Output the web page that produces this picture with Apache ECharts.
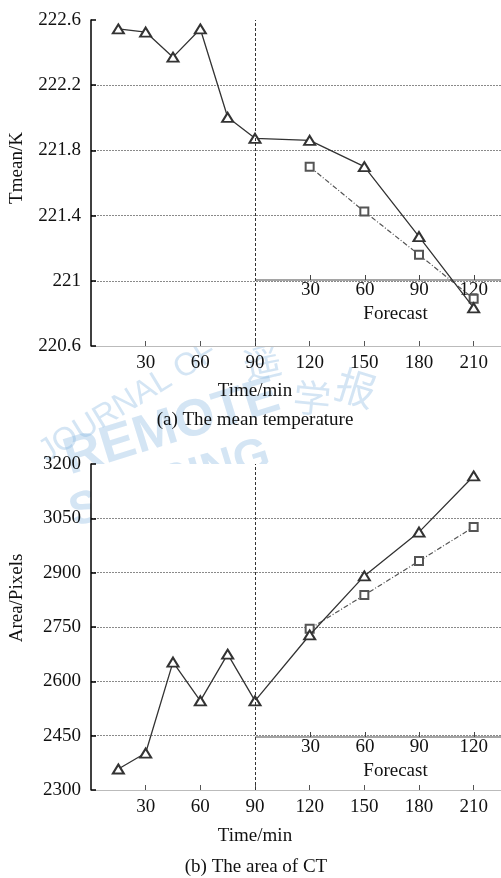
<!DOCTYPE html>
<html>
<head>
<meta charset="utf-8">
<script src="https://cdn.jsdelivr.net/npm/echarts@6/dist/echarts.min.js"></script>
<style>
  html, body { margin: 0; padding: 0; background: #fff; }
  #chart { width: 501px; height: 878px; }
</style>
</head>
<body>
<div id="chart"></div>
<script>
// Time axis (minutes) and the forecast horizon axis
const timeTicks = [30, 60, 90, 120, 150, 180, 210];
const forecastTicks = [30, 60, 90, 120];
const observedTimes = [15, 30, 45, 60, 75, 90, 120, 150, 180, 210];
const forecastTimes = [120, 150, 180, 210];

// (a) mean temperature of the cloud top, K
const tempObserved = [222.545, 222.526, 222.372, 222.545, 222.003, 221.874, 221.862, 221.700, 221.271, 220.834];
const tempForecast = [221.700, 221.425, 221.160, 220.890];
const tempTicks = [220.6, 221, 221.4, 221.8, 222.2, 222.6];

// (b) area of the cloud top, pixels
const areaObserved = [2358, 2402, 2653, 2546, 2675, 2546, 2728, 2891, 3012, 3167];
const areaForecast = [2745, 2838, 2932, 3026];
const areaTicks = [2300, 2450, 2600, 2750, 2900, 3050, 3200];

const SERIF = 'Liberation Serif, Times New Roman, serif';
const FS = 19;
const INK = '#111';
const pair = (xs, ys) => xs.map((x, i) => [x, ys[i]]);

function mainX(gridIndex, nameGap) {
  return {
    type: 'value', gridIndex, min: 0, max: 225,
    axisLine: { show: true, lineStyle: { color: '#bbb', width: 1 } },
    axisTick: { show: true, inside: true, length: 5, customValues: timeTicks, lineStyle: { color: '#555' } },
    axisLabel: { customValues: timeTicks, margin: 8, fontFamily: SERIF, fontSize: FS, color: INK },
    splitLine: { show: false },
    name: 'Time/min', nameLocation: 'middle', nameGap,
    nameTextStyle: { fontFamily: SERIF, fontSize: FS, color: INK, padding: [0, 82, 0, 0] }
  };
}

function forecastX(gridIndex) {
  return {
    type: 'value', gridIndex, min: 0, max: 135,
    axisLine: { show: true, lineStyle: { color: '#888', width: 1.5 } },
    axisTick: { show: true, inside: true, length: 5, customValues: forecastTicks, lineStyle: { color: '#444' } },
    axisLabel: { customValues: forecastTicks, margin: 1, fontFamily: SERIF, fontSize: FS, color: INK },
    splitLine: { show: false },
    name: 'Forecast', nameLocation: 'middle', nameGap: 25,
    nameTextStyle: { fontFamily: SERIF, fontSize: FS, color: INK, padding: [0, 0, 0, 34] }
  };
}

function mainY(gridIndex, min, max, ticks, name, shift, fmt) {
  return {
    type: 'value', gridIndex, min, max,
    axisLine: { show: true, lineStyle: { color: '#000', width: 1.5 } },
    axisTick: { show: true, inside: true, length: 5, customValues: ticks, lineStyle: { color: '#000', width: 1.5 } },
    axisLabel: { customValues: ticks, margin: 10, fontFamily: SERIF, fontSize: FS, color: INK, formatter: fmt },
    splitLine: { show: true, showMinLine: false, showMaxLine: false, lineStyle: { color: '#8a8a8a', type: [2, 1], width: 1 } },
    name, nameLocation: 'middle', nameGap: 64,
    nameTextStyle: { fontFamily: SERIF, fontSize: FS, color: INK, padding: [0, 0, 0, shift] }
  };
}

const hiddenY = (gridIndex) => ({ type: 'value', gridIndex, min: 0, max: 1, show: false });

function observedSeries(xi, yi, data) {
  return {
    type: 'line', xAxisIndex: xi, yAxisIndex: yi, data,
    symbol: 'emptyTriangle', symbolSize: [11, 9],
    lineStyle: { color: '#333', width: 1.3 },
    itemStyle: { color: '#333', borderWidth: 1.3 },
    z: 4,
    markLine: {
      silent: true, symbol: 'none', label: { show: false },
      lineStyle: { color: '#333', type: [3, 2], width: 1 },
      data: [{ xAxis: 90 }]
    }
  };
}

function forecastSeries(xi, yi, data) {
  return {
    type: 'line', xAxisIndex: xi, yAxisIndex: yi, data,
    symbol: 'emptyRect', symbolSize: 8,
    lineStyle: { color: '#555', width: 1.2, type: [5, 2, 1, 2] },
    itemStyle: { color: '#555', borderWidth: 1.2 },
    z: 3
  };
}

// faint journal watermark between the two panels
const WM = 'rgba(130,178,224,0.34)';
const wmText = (text, x, y, rot, font) => ({
  type: 'text', x, y, rotation: rot, z: -5,
  style: { text, font, fill: WM, align: 'center', verticalAlign: 'middle' }
});
const watermark = [
  wmText('JOURNAL OF', 128, 402, 0.55, '32px "Liberation Sans", sans-serif'),
  wmText('REMOTE', 172, 428, 0.3, 'bold 52px "Liberation Sans", sans-serif'),
  wmText('SENSING', 170, 484, 0.3, 'bold 46px "Liberation Sans", sans-serif'),
  wmText('遥', 262, 362, 0.2, '38px "Noto Sans CJK SC", sans-serif'),
  wmText('学', 312, 398, -0.1, '38px "Noto Sans CJK SC", sans-serif'),
  wmText('报', 356, 388, -0.3, '40px "Noto Sans CJK SC", sans-serif')
];

const captions = [
  { type: 'text', x: 255, y: 420, z: 10,
    style: { text: '(a) The mean temperature', font: FS + 'px ' + SERIF, fill: INK, align: 'center', verticalAlign: 'middle' } },
  { type: 'text', x: 256, y: 867, z: 10,
    style: { text: '(b) The area of CT', font: FS + 'px ' + SERIF, fill: INK, align: 'center', verticalAlign: 'middle' } }
];

const chart = echarts.init(document.getElementById('chart'), null, { renderer: 'canvas' });
chart.setOption({
  backgroundColor: '#fff',
  animation: false,
  graphic: { elements: watermark.concat(captions) },
  grid: [
    { left: 91, top: 20, width: 412.5, height: 326, show: true, backgroundColor: '#fff', borderWidth: 0 },
    { left: 256, top: 20, width: 247.5, height: 260 },
    { left: 91, top: 464, width: 412.5, height: 326, show: true, backgroundColor: '#fff', borderWidth: 0 },
    { left: 256, top: 464, width: 247.5, height: 273 }
  ],
  xAxis: [mainX(0, 36), forecastX(1), mainX(2, 37), forecastX(3)],
  yAxis: [
    mainY(0, 220.6, 222.6, tempTicks, 'Tmean/K', 30, v => (Math.round(v * 10) / 10).toString()),
    hiddenY(1),
    mainY(2, 2300, 3200, areaTicks, 'Area/Pixels', 58, v => String(v)),
    hiddenY(3)
  ],
  series: [
    forecastSeries(0, 0, pair(forecastTimes, tempForecast)),
    observedSeries(0, 0, pair(observedTimes, tempObserved)),
    forecastSeries(2, 2, pair(forecastTimes, areaForecast)),
    observedSeries(2, 2, pair(observedTimes, areaObserved))
  ]
});
</script>
</body>
</html>
